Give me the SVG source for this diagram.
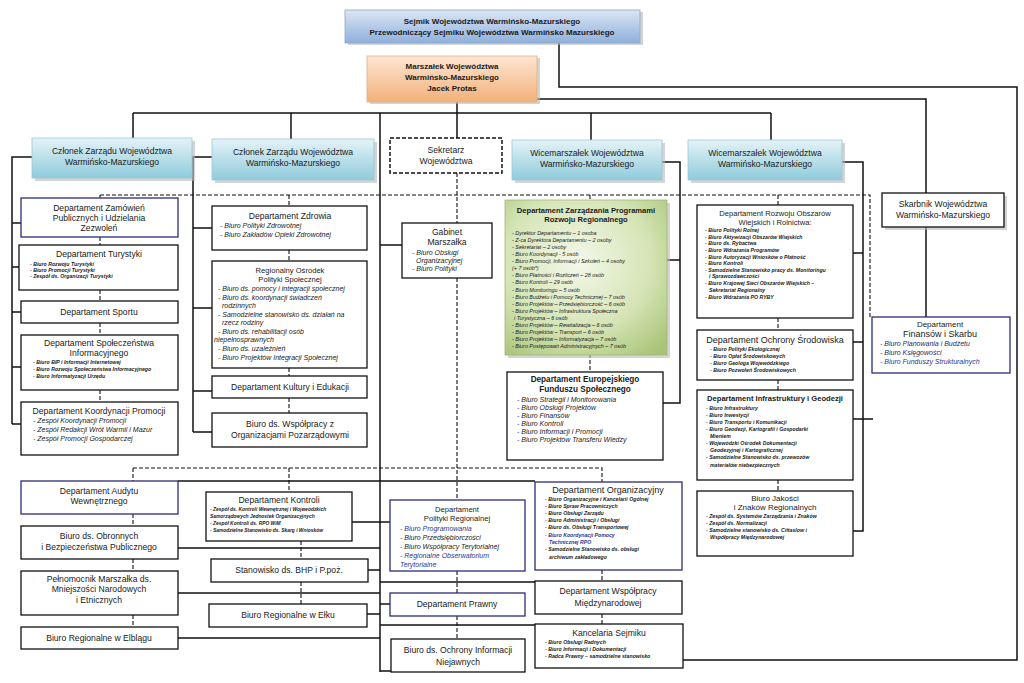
<svg xmlns="http://www.w3.org/2000/svg" width="1024" height="683" viewBox="0 0 1024 683">
<defs>
<linearGradient id="gBlue" x1="0" y1="0" x2="0" y2="1"><stop offset="0" stop-color="#dbe6f5"/><stop offset="1" stop-color="#8fb0dc"/></linearGradient>
<linearGradient id="gOrange" x1="0" y1="0" x2="0" y2="1"><stop offset="0" stop-color="#fde6d2"/><stop offset="1" stop-color="#f3b07a"/></linearGradient>
<linearGradient id="gCyan" x1="0" y1="0" x2="0" y2="1"><stop offset="0" stop-color="#e4f3f7"/><stop offset="1" stop-color="#8fcbdb"/></linearGradient>
<radialGradient id="gGreen" cx="0.45" cy="0.4" r="0.75"><stop offset="0" stop-color="#f4f8ea"/><stop offset="0.6" stop-color="#d5e4b5"/><stop offset="1" stop-color="#a9c478"/></radialGradient>
<style>
text{font-family:"Liberation Sans",Arial,sans-serif;fill:#1a1a1a}
.b{fill:#fff;stroke:#111;stroke-width:1.3}
.nb{fill:#fff;stroke:#2b2b78;stroke-width:1.3}
.sh{fill:#b8b8b8;opacity:0.6}
.t{font-size:8.6px;text-anchor:middle}
.tb{font-size:8px;font-weight:bold;text-anchor:middle}
.i{font-size:5.4px;font-style:italic}
.ib{font-size:5.2px;font-style:italic;font-weight:bold}
.i7{font-size:7px;font-style:italic}
.nv{fill:#2b3590}
.ln{fill:none;stroke:#111;stroke-width:1.5}
.dl{fill:none;stroke:#111;stroke-width:1.1;stroke-dasharray:4 2}
</style>
</defs>
<rect width="1024" height="683" fill="#fff"/>

<g id="connectors">
<path class="ln" d="M559,43 V87 H1017 V660 H683"/>
<path class="ln" d="M537,99 H926 V193"/>
<path class="ln" d="M457,102 V113 M133,113 H771 M133,113 V138 M291,113 V139 M771,113 V140 M591,113 V140 M457,113 V138"/>
<path class="ln" d="M380,113 V672"/>
<path class="ln" d="M32,157 H12 V424 M12,223 H21 M12,267 H19 M12,312 H21 M12,367 H21 M12,424 H21"/>
<path class="ln" d="M212,157 H193 V432 M193,228 H212 M193,308 H212 M193,391 H212 M193,432 H212"/>
<path class="ln" d="M380,245 H402"/>
<path class="ln" d="M662,162 H680 V403 H663 M667,260 H680"/>
<path class="ln" d="M842,162 H863 V531 H853 M853,253 H863 M853,342 H863 M853,419 H873"/>
<path class="ln" d="M926,227 V317"/>
<path class="ln" d="M178,481 H535 M352,522 H390 M178,548 H380 M368,570 H380 M380,582 H535 M178,593 H380 M367,614 H380 M380,604 H390 M380,625 H535 M178,638 H380 M380,671 H391"/>
<path class="dl" d="M100,195 H870 V317 M100,195 V198 M100,237 V245 M100,290 V301 M100,323 V335 M100,390 V402"/>
<path class="dl" d="M289,195 V206 M289,250 V261 M289,368 V376 M289,398 V413"/>
<path class="dl" d="M457,173 V223 M457,278 V500 M457,571 V593 M457,616 V639"/>
<path class="dl" d="M590,195 V200 M590,354 V372"/>
<path class="dl" d="M778,195 V205 M778,318 V330 M778,380 V390 M778,480 V491"/>
<path class="dl" d="M133,468 H602 V482 M133,468 V481 M133,514 V526 M133,559 V571 M133,615 V627 M289,468 V492 M301,541 V559 M301,582 V620 M602,570 V581 M602,614 V624"/>
</g>

<g id="sejmik"><rect x="348" y="12" width="295" height="33" class="sh"/><rect x="345" y="10" width="295" height="33" fill="url(#gBlue)" stroke="#8fa7c6" stroke-width="0.8"/>
<text class="tb" x="492" y="24">Sejmik Województwa Warmińsko-Mazurskiego</text>
<text class="tb" x="492" y="35">Przewodniczący Sejmiku Województwa Warmińsko Mazurskiego</text></g>

<g id="marszalek"><rect x="370" y="58" width="170" height="46" class="sh"/><rect x="367" y="56" width="170" height="46" fill="url(#gOrange)" stroke="#e0b08a" stroke-width="0.8"/>
<text class="tb" x="452" y="69">Marszałek Województwa</text>
<text class="tb" x="452" y="80">Warmińsko-Mazurskiego</text>
<text class="tb" x="452" y="91">Jacek Protas</text></g>

<g id="czlonek1"><rect x="35" y="141" width="160" height="40" class="sh"/><rect x="32" y="138" width="160" height="40" fill="url(#gCyan)" stroke="#9cc9d6" stroke-width="0.8"/>
<text class="t" x="112" y="154">Członek Zarządu Województwa</text><text class="t" x="112" y="165">Warmińsko-Mazurskiego</text></g>

<g id="czlonek2"><rect x="215" y="142" width="162" height="41" class="sh"/><rect x="212" y="139" width="162" height="41" fill="url(#gCyan)" stroke="#9cc9d6" stroke-width="0.8"/>
<text class="t" x="293" y="155">Członek Zarządu Województwa</text><text class="t" x="293" y="166">Warmińsko-Mazurskiego</text></g>

<g id="sekretarz"><rect x="390" y="138" width="112" height="35" fill="#fff" stroke="#111" stroke-width="1.5" stroke-dasharray="4 2"/>
<text class="t" x="446" y="153">Sekretarz</text><text class="t" x="446" y="164">Województwa</text></g>

<g id="wice1"><rect x="515" y="143" width="150" height="40" class="sh"/><rect x="512" y="140" width="150" height="40" fill="url(#gCyan)" stroke="#9cc9d6" stroke-width="0.8"/>
<text class="t" x="587" y="156">Wicemarszałek Województwa</text><text class="t" x="587" y="167">Warmińsko-Mazurskiego</text></g>

<g id="wice2"><rect x="691" y="143" width="154" height="40" class="sh"/><rect x="688" y="140" width="154" height="40" fill="url(#gCyan)" stroke="#9cc9d6" stroke-width="0.8"/>
<text class="t" x="765" y="156">Wicemarszałek Województwa</text><text class="t" x="765" y="167">Warmińsko-Mazurskiego</text></g>

<g id="skarbnik"><rect x="885" y="196" width="122" height="34" class="sh"/><rect x="882" y="193" width="122" height="34" class="b"/>
<text class="t" x="943" y="207">Skarbnik Województwa</text><text class="t" x="943" y="218">Warmińsko-Mazurskiego</text></g>

<!-- left column -->
<g id="zamowien"><rect x="21" y="198" width="157" height="39" class="nb"/>
<text class="t" x="99" y="211">Departament Zamówień</text><text class="t" x="99" y="221">Publicznych  i Udzielania</text><text class="t" x="99" y="231">Zezwoleń</text></g>
<g id="turystyki"><rect x="19" y="245" width="159" height="45" class="b"/>
<text class="t" x="99" y="257">Departament Turystyki</text>
<text class="ib" x="30" y="266">- Biuro Rozwoju Turystyki</text><text class="ib" x="30" y="272">- Biuro Promocji Turystyki</text><text class="ib" x="30" y="278">- Zespół ds. Organizacji Turystyki</text></g>
<g id="sportu"><rect x="21" y="301" width="157" height="22" class="b"/><text class="t" x="99" y="315">Departament Sportu</text></g>
<g id="spoleczenstwa"><rect x="21" y="335" width="157" height="55" class="b"/>
<text class="t" x="99" y="346">Departament Społeczeństwa</text><text class="t" x="99" y="356">Informacyjnego</text>
<text class="ib" x="33" y="364">- Biuro BIP i Informacji Internetowej</text><text class="ib" x="33" y="371">- Biuro Rozwoju Społeczeństwa Informacyjnego</text><text class="ib" x="33" y="378">- Biuro Informatyzacji Urzędu</text></g>
<g id="koordynacji"><rect x="21" y="402" width="157" height="53" class="b"/>
<text class="t" x="99" y="414">Departament Koordynacji Promocji</text>
<text class="i7" x="33" y="423">- Zespół Koordynacji Promocji</text><text class="i7" x="33" y="432">- Zespół Redakcji Wrót Warmii i Mazur</text><text class="i7" x="33" y="441">- Zespół Promocji Gospodarczej</text></g>

<!-- column 2 -->
<g id="zdrowia"><rect x="212" y="206" width="155" height="44" class="b"/>
<text class="t" x="290" y="219">Departament Zdrowia</text>
<text class="i7" x="220" y="228">- Biuro Polityki Zdrowotnej</text><text class="i7" x="220" y="237">- Biuro Zakładów Opieki Zdrowotnej</text></g>
<g id="rops"><rect x="212" y="261" width="155" height="107" class="b"/>
<text class="t" x="290" y="273" style="font-size:7.6px">Regionalny Ośrodek</text><text class="t" x="290" y="282" style="font-size:7.6px">Polityki Społecznej</text>
<text class="i7" x="218" y="291">- Biuro ds. pomocy i integracji społecznej</text>
<text class="i7" x="218" y="300">- Biuro ds. koordynacji świadczeń</text>
<text class="i7" x="222" y="308">rodzinnych</text>
<text class="i7" x="218" y="317">- Samodzielne stanowisko ds. działań na</text>
<text class="i7" x="222" y="325">rzecz   rodziny</text>
<text class="i7" x="218" y="334">- Biuro ds. rehabilitacji osób</text>
<text class="i7" x="214" y="342">niepełnosprawnych</text>
<text class="i7" x="218" y="351">- Biuro ds. uzależnień</text>
<text class="i7" x="218" y="360">- Biuro Projektów Integracji Społecznej</text></g>
<g id="kultury"><rect x="212" y="376" width="155" height="22" class="b"/><text class="t" x="290" y="390">Departament Kultury i Edukacji</text></g>
<g id="wspolpracy"><rect x="212" y="413" width="155" height="34" class="b"/>
<text class="t" x="290" y="427">Biuro ds. Współpracy z</text><text class="t" x="290" y="438">Organizacjami Pozarządowymi</text></g>

<g id="gabinet"><rect x="402" y="223" width="90" height="55" class="b"/>
<text class="t" x="447" y="235">Gabinet</text><text class="t" x="447" y="245">Marszałka</text>
<text class="i7" x="412" y="255">- Biuro Obsługi</text><text class="i7" x="416" y="263">Organizacyjnej</text><text class="i7" x="412" y="271">- Biuro Polityki</text></g>

<g id="zarzadzania"><rect x="508" y="203" width="162" height="155" class="sh"/><rect x="505" y="200" width="162" height="155" fill="url(#gGreen)" stroke="#9fb87a" stroke-width="0.8"/>
<text class="tb" x="586" y="213" style="font-size:7.6px">Departament Zarządzania Programami</text><text class="tb" x="586" y="222" style="font-size:7.6px">Rozwoju Regionalnego</text>
<g class="ib" style="font-weight:normal;font-size:5.5px">
<text class="i" x="512" y="235">- Dyrektor Departamentu – 1 osoba</text>
<text class="i" x="512" y="242">- Z-ca Dyrektora Departamentu – 2 osoby</text>
<text class="i" x="512" y="249">- Sekretariat – 2 osoby</text>
<text class="i" x="512" y="256">- Biuro Koordynacji - 5 osób</text>
<text class="i" x="512" y="263">- Biuro Promocji, Informacji i Szkoleń – 4 osoby</text>
<text class="i" x="512" y="270">(+ 7 osób*)</text>
<text class="i" x="512" y="277">- Biuro Płatności i Rozliczeń – 28 osób</text>
<text class="i" x="512" y="284">- Biuro Kontroli – 29 osób</text>
<text class="i" x="512" y="292">- Biuro Monitoringu – 5 osób</text>
<text class="i" x="512" y="299">- Biuro Budżetu i Pomocy Technicznej – 7 osób</text>
<text class="i" x="512" y="306">- Biuro Projektów – Przedsiębiorczość – 6 osób</text>
<text class="i" x="512" y="313">- Biuro Projektów – Infrastruktura Społeczna</text>
<text class="i" x="514" y="320">i Turystyczna – 6 osób</text>
<text class="i" x="512" y="327">- Biuro Projektów – Rewitalizacja – 6 osób</text>
<text class="i" x="512" y="334">- Biuro Projektów – Transport – 6 osób</text>
<text class="i" x="512" y="341">- Biuro Projektów – Informatyzacja – 7 osób</text>
<text class="i" x="512" y="348">- Biuro Postępowań Administracyjnych – 7 osób</text></g></g>

<g id="efs"><rect x="507" y="372" width="156" height="88" class="b"/>
<text class="tb" x="585" y="382" style="font-size:8.2px">Departament Europejskiego</text><text class="tb" x="585" y="392" style="font-size:8.2px">Funduszu Społecznego</text>
<text class="i7" x="517" y="402">- Biuro Strategii i Monitorowania</text>
<text class="i7" x="517" y="410">- Biuro Obsługi Projektów</text>
<text class="i7" x="517" y="418">- Biuro Finansów</text>
<text class="i7" x="517" y="426">- Biuro Kontroli</text>
<text class="i7" x="517" y="434">- Biuro Informacji i Promocji</text>
<text class="i7" x="517" y="442">- Biuro Projektów Transferu Wiedzy</text></g>

<!-- wice2 column -->
<g id="rozwoju"><rect x="697" y="205" width="156" height="113" class="b"/>
<text class="t" x="775" y="216" style="font-size:7.6px">Departament Rozwoju Obszarów</text><text class="t" x="775" y="225" style="font-size:7.6px">Wiejskich i Rolnictwa:</text>
<text class="ib" x="705" y="232">- Biuro Polityki Rolnej</text>
<text class="ib" x="705" y="239">- Biuro Aktywizacji Obszarów Wiejskich</text>
<text class="ib" x="705" y="245">- Biuro ds. Rybactwa</text>
<text class="ib" x="705" y="252">- Biuro Wdrażania Programów</text>
<text class="ib" x="705" y="259">- Biuro Autoryzacji Wniosków o Płatność</text>
<text class="ib" x="705" y="265">- Biuro Kontroli</text>
<text class="ib" x="705" y="272">- Samodzielne Stanowisko pracy ds. Monitoringu</text>
<text class="ib" x="709" y="278">i Sprawozdawczości</text>
<text class="ib" x="705" y="285">- Biuro Krajowej Sieci Obszarów Wiejskich –</text>
<text class="ib" x="709" y="292">Sekretariat Regionalny</text>
<text class="ib" x="705" y="299">- Biuro Wdrażania PO RYBY</text></g>
<g id="ochrony_srod"><rect x="697" y="330" width="156" height="50" class="b"/>
<text class="t" x="775" y="343" style="font-size:9px">Departament Ochrony Środowiska</text>
<text class="ib" x="710" y="351">- Biuro Polityki Ekologicznej</text>
<text class="ib" x="710" y="358">- Biuro Opłat Środowiskowych</text>
<text class="ib" x="710" y="365">- Biuro Geologa Wojewódzkiego</text>
<text class="ib" x="710" y="372">- Biuro Pozwoleń Środowiskowych</text></g>
<g id="infrastruktury"><rect x="697" y="390" width="156" height="90" class="b"/>
<text class="tb" x="775" y="401" style="font-size:7.6px">Departament Infrastruktury i Geodezji</text>
<text class="ib" x="706" y="410">- Biuro Infrastruktury</text>
<text class="ib" x="706" y="417">- Biuro Inwestycji</text>
<text class="ib" x="706" y="424">- Biuro Transportu i Komunikacji</text>
<text class="ib" x="706" y="431">- Biuro Geodezji, Kartografii i Gospodarki</text>
<text class="ib" x="710" y="438">Mieniem</text>
<text class="ib" x="706" y="445">- Wojewódzki Ośrodek Dokumentacji</text>
<text class="ib" x="710" y="452">Geodezyjnej i Kartograficznej</text>
<text class="ib" x="706" y="459">- Samodzielne Stanowisko ds. przewozów</text>
<text class="ib" x="710" y="467">materiałów niebezpiecznych</text></g>
<g id="jakosci"><rect x="697" y="491" width="156" height="65" class="b"/>
<text class="t" x="775" y="501" style="font-size:8px">Biuro Jakości</text><text class="t" x="775" y="510" style="font-size:8px">i Znaków Regionalnych</text>
<text class="ib" x="706" y="518">- Zespół ds. Systemów Zarządzania i Znaków</text>
<text class="ib" x="706" y="525">- Zespół ds. Normalizacji</text>
<text class="ib" x="706" y="532">- Samodzielne stanowisko ds. Cittaslow  i</text>
<text class="ib" x="710" y="539">Współpracy Międzynarodowej</text></g>

<g id="finansow"><rect x="872" y="317" width="138" height="56" class="nb"/>
<text class="t" x="940" y="327" style="font-size:8px">Departament</text><text class="t" x="940" y="337" style="font-size:9px">Finansów i Skarbu</text>
<text class="i7" x="880" y="346" style="fill:#1f2a5c">- Biuro Planowania i Budżetu</text>
<text class="i7" x="880" y="355" style="fill:#1f2a5c">- Biuro Księgowości</text>
<text class="i7 nv" x="880" y="364">- Biuro Funduszy Strukturalnych</text></g>

<!-- bottom left -->
<g id="audytu"><rect x="21" y="481" width="157" height="33" class="nb"/>
<text class="t" x="99" y="494">Departament Audytu</text><text class="t" x="99" y="504">Wewnętrznego</text></g>
<g id="obronnych"><rect x="21" y="526" width="157" height="33" class="b"/>
<text class="t" x="99" y="539">Biuro ds. Obronnych</text><text class="t" x="99" y="550">i Bezpieczeństwa Publicznego</text></g>
<g id="pelnomocnik"><rect x="21" y="571" width="157" height="44" class="b"/>
<text class="t" x="99" y="582">Pełnomocnik Marszałka ds.</text><text class="t" x="99" y="592">Mniejszości Narodowych</text><text class="t" x="99" y="603">i Etnicznych</text></g>
<g id="elblag"><rect x="21" y="627" width="157" height="22" class="b"/><text class="t" x="99" y="641">Biuro Regionalne w Elblągu</text></g>

<g id="kontroli"><rect x="206" y="492" width="146" height="49" class="b"/>
<text class="t" x="279" y="503">Departament Kontroli</text>
<text class="ib" x="210" y="511" style="font-size:4.9px">- Zespół ds. Kontroli Wewnętrznej i Wojewódzkich</text>
<text class="ib" x="210" y="518" style="font-size:4.9px">Samorządowych Jednostek Organizacyjnych</text>
<text class="ib" x="210" y="525" style="font-size:4.9px">- Zespół Kontroli ds. RPO WiM</text>
<text class="ib" x="210" y="532" style="font-size:4.9px">- Samodzielne Stanowisko ds. Skarg  i Wniosków</text></g>
<g id="bhp"><rect x="211" y="559" width="157" height="23" class="b"/><text class="t" x="289" y="573">Stanowisko ds. BHP i P.poż.</text></g>
<g id="elk"><rect x="209" y="604" width="158" height="23" class="b"/><text class="t" x="288" y="618">Biuro Regionalne w Ełku</text></g>

<g id="polreg"><rect x="390" y="500" width="135" height="71" class="nb"/>
<text class="t" x="457" y="512" style="font-size:7.6px">Departament</text><text class="t" x="457" y="521" style="font-size:7.6px">Polityki Regionalnej</text>
<text class="i7 nv" x="400" y="531">- Biuro Programowania</text>
<text class="i7" x="400" y="540">- Biuro Przedsiębiorczości</text>
<text class="i7" x="400" y="549">- Biuro Współpracy Terytorialnej</text>
<text class="i7 nv" x="400" y="558">- Regionalne Obserwatorium</text>
<text class="i7 nv" x="400" y="567">Terytorialne</text></g>
<g id="prawny"><rect x="390" y="593" width="135" height="23" class="nb"/><text class="t" x="457" y="607">Departament Prawny</text></g>
<g id="niejawnych"><rect x="391" y="639" width="134" height="33" class="b"/>
<text class="t" x="458" y="653">Biuro ds. Ochrony Informacji</text><text class="t" x="458" y="665">Niejawnych</text></g>

<g id="organizacyjny"><rect x="535" y="482" width="147" height="88" class="nb"/>
<text class="t" x="608" y="493" style="font-size:9px">Departament Organizacyjny</text>
<text class="ib" x="545" y="501">- Biuro Organizacyjne i Kancelarii Ogólnej</text>
<text class="ib" x="545" y="508">- Biuro Spraw Pracowniczych</text>
<text class="ib" x="545" y="515">- Biuro Obsługi Zarządu</text>
<text class="ib" x="545" y="522">- Biuro Administracji i Obsługi</text>
<text class="ib" x="545" y="529">- Biuro ds. Obsługi Transportowej</text>
<text class="ib nv" x="545" y="537">- Biuro Koordynacji Pomocy</text>
<text class="ib nv" x="549" y="544">Technicznej RPO</text>
<text class="ib" x="545" y="551">- Samodzielne Stanowisko ds. obsługi</text>
<text class="ib" x="549" y="559">archiwum zakładowego</text></g>
<g id="miedzynarodowej"><rect x="535" y="581" width="147" height="33" class="b"/>
<text class="t" x="608" y="594">Departament Współpracy</text><text class="t" x="608" y="606">Międzynarodowej</text></g>
<g id="kancelaria"><rect x="535" y="624" width="148" height="44" class="b"/>
<text class="t" x="609" y="636">Kancelaria Sejmiku</text>
<text class="ib" x="545" y="644">- Biuro Obsługi Radnych</text>
<text class="ib" x="545" y="651">- Biuro Informacji i Dokumentacji</text>
<text class="ib" x="545" y="658">- Radca Prawny – samodzielne stanowisko</text></g>
</svg>
